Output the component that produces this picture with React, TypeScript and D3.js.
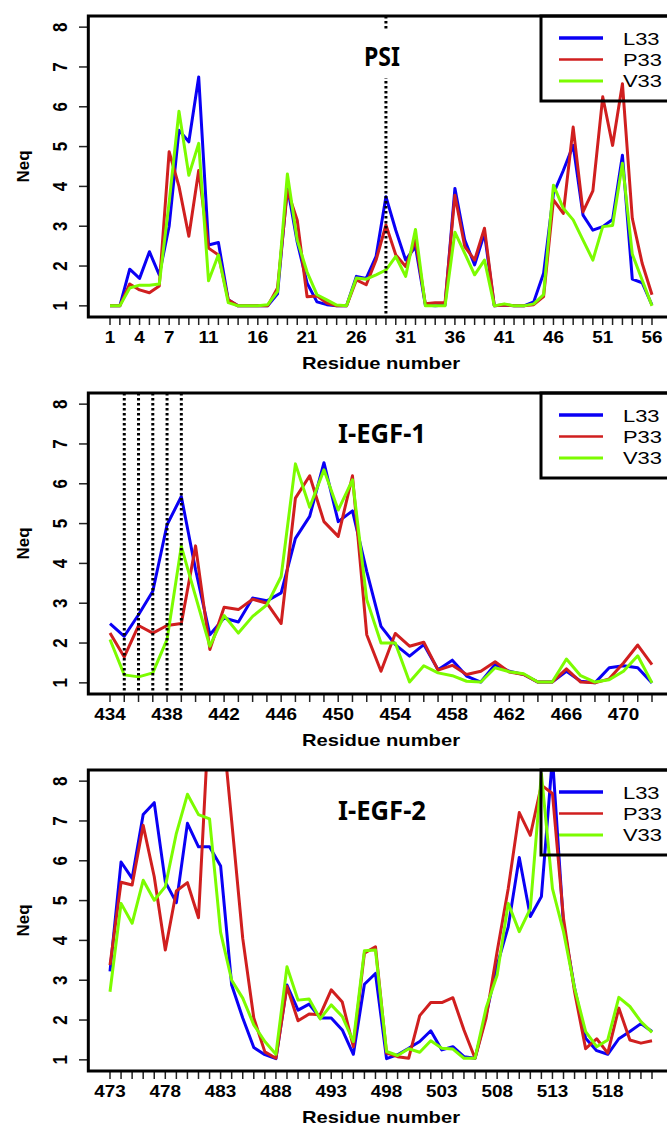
import React from "react";
import * as d3 from "d3";

const W = 667;
const H = 1127;

const seriesNames = ["L33", "P33", "V33"];
const seriesColors = ["#0a00f5", "#d01f1f", "#7cfc00"];
const legendWidths = [3.5, 2.5, 3];

// PSI domain, residues 1-56
const psiStart = 1;
const psiL33 = [1.0, 1.0, 1.92, 1.69, 2.36, 1.78, 3.0, 5.41, 5.12, 6.75, 2.53, 2.59, 1.15, 1.0, 1.0, 1.0, 1.0, 1.3, 4.0, 2.6, 1.57, 1.1, 1.03, 1.0, 1.0, 1.74, 1.69, 2.24, 3.74, 2.9, 2.15, 2.49, 1.02, 1.0, 1.02, 3.95, 2.65, 2.03, 2.82, 1.0, 1.02, 1.0, 1.0, 1.1, 1.82, 3.82, 4.4, 5.03, 3.28, 2.9, 2.99, 3.17, 4.78, 1.67, 1.58, 1.02];
const psiP33 = [1.0, 1.0, 1.55, 1.4, 1.33, 1.5, 4.87, 4.0, 2.75, 4.4, 2.45, 2.28, 1.15, 1.0, 1.0, 1.0, 1.0, 1.45, 3.9, 3.15, 1.23, 1.25, 1.07, 1.0, 1.0, 1.65, 1.53, 2.15, 3.03, 2.28, 1.99, 2.65, 1.05, 1.08, 1.08, 3.78, 2.49, 2.15, 2.95, 1.0, 1.02, 1.0, 1.0, 1.03, 1.23, 3.66, 3.32, 5.49, 3.36, 3.89, 6.25, 5.03, 6.58, 3.2, 2.07, 1.28];
const psiV33 = [1.0, 1.0, 1.45, 1.52, 1.52, 1.55, 3.6, 5.89, 4.28, 5.08, 1.63, 2.28, 1.08, 1.0, 1.0, 1.0, 1.03, 1.36, 4.31, 2.65, 1.85, 1.28, 1.15, 1.02, 1.0, 1.7, 1.67, 1.78, 1.9, 2.24, 1.74, 2.92, 1.0, 1.0, 1.0, 2.85, 2.32, 1.78, 2.15, 1.0, 1.05, 1.0, 1.0, 1.05, 1.28, 4.03, 3.45, 3.16, 2.65, 2.15, 2.99, 3.02, 4.58, 2.3, 1.65, 1.0];
const psiTicks = [1, 4, 7, 11, 16, 21, 26, 31, 36, 41, 46, 51, 56];
const psiMarks = [29];

// I-EGF-1, residues 434-472
const egf1Start = 434;
const egf1L33 = [2.49, 2.17, 2.71, 3.3, 4.97, 5.68, 3.84, 2.21, 2.63, 2.53, 3.13, 3.06, 3.26, 4.63, 5.18, 6.53, 5.05, 5.32, 3.8, 2.42, 1.96, 1.67, 1.96, 1.33, 1.57, 1.17, 1.02, 1.46, 1.29, 1.21, 1.02, 1.02, 1.29, 1.04, 1.0, 1.38, 1.43, 1.38, 1.0];
const egf1P33 = [2.25, 1.65, 2.44, 2.25, 2.44, 2.49, 4.44, 1.84, 2.9, 2.84, 3.1, 3.0, 2.49, 5.64, 6.2, 5.05, 4.68, 6.2, 2.21, 1.29, 2.24, 1.92, 2.02, 1.32, 1.44, 1.21, 1.29, 1.53, 1.27, 1.21, 1.02, 1.02, 1.35, 1.02, 1.0, 1.1, 1.5, 1.95, 1.46];
const egf1V33 = [2.09, 1.2, 1.15, 1.25, 2.09, 4.43, 3.17, 1.92, 2.69, 2.25, 2.67, 2.96, 3.67, 6.5, 5.41, 6.35, 5.34, 6.1, 3.09, 2.0, 2.0, 1.02, 1.43, 1.25, 1.18, 1.04, 1.02, 1.38, 1.28, 1.23, 1.02, 1.02, 1.6, 1.18, 1.02, 1.08, 1.29, 1.68, 1.0];
const egf1Ticks = [434, 438, 442, 446, 450, 454, 458, 462, 466, 470];
const egf1Marks = [435, 436, 437, 438, 439];

// I-EGF-2, residues 473-522
const egf2Start = 473;
const egf2L33 = [3.22, 5.97, 5.56, 7.16, 7.46, 5.47, 4.95, 6.94, 6.35, 6.35, 5.87, 2.88, 2.05, 1.31, 1.13, 1.03, 2.88, 2.25, 2.4, 2.05, 2.05, 1.75, 1.14, 2.9, 3.17, 1.03, 1.13, 1.29, 1.46, 1.73, 1.25, 1.33, 1.08, 1.04, 2.13, 3.38, 4.34, 6.08, 4.6, 5.1, 8.6, 4.39, 2.8, 1.54, 1.23, 1.14, 1.53, 1.71, 1.91, 1.71];
const egf2P33 = [3.38, 5.46, 5.39, 6.89, 5.6, 3.76, 5.24, 5.45, 4.57, 9.9, 9.9, 7.0, 4.05, 2.05, 1.2, 1.04, 2.84, 1.98, 2.15, 2.13, 2.76, 2.45, 1.33, 3.68, 3.84, 1.17, 1.08, 1.04, 2.11, 2.44, 2.44, 2.56, 1.75, 1.04, 2.05, 3.72, 5.3, 7.21, 6.64, 7.9, 7.69, 4.55, 2.71, 1.28, 1.53, 1.17, 2.3, 1.5, 1.42, 1.48];
const egf2V33 = [2.71, 4.93, 4.43, 5.51, 5.01, 5.35, 6.69, 7.67, 7.16, 7.05, 4.2, 3.0, 2.55, 1.88, 1.46, 1.14, 3.34, 2.5, 2.53, 2.03, 2.38, 2.09, 1.46, 3.74, 3.76, 1.21, 1.11, 1.28, 1.19, 1.48, 1.29, 1.27, 1.04, 1.04, 2.3, 3.13, 4.93, 4.22, 4.8, 8.19, 5.3, 4.22, 2.8, 1.71, 1.33, 1.5, 2.57, 2.34, 1.96, 1.69];
const egf2Ticks = [473, 478, 483, 488, 493, 498, 503, 508, 513, 518];

const yTicks = [1, 2, 3, 4, 5, 6, 7, 8];

const axisFont = "'Liberation Sans', Arial, sans-serif";
const titleFont = "'Noto Sans', 'Liberation Sans', sans-serif";

interface PanelProps {
  id: string;
  top: number;
  start: number;
  series: number[][];
  ticks: number[];
  title: string;
  titleWidth: number;
  marks: number[];
}

const Panel = ({ id, top, start, series, ticks, title, titleWidth, marks }: PanelProps) => {
  const n = series[0].length;
  const end = start + n - 1;
  const bottom = top + 301;
  const x = d3.scaleLinear().domain([start, end]).range([110, 652]);
  const y = d3.scaleLinear().domain([0.72, 8.28]).range([bottom, top]);
  const left = x(start - (end - start) * 0.04);
  const residues = d3.range(start, end + 1);
  const line = d3
    .line<number>()
    .x((_, i) => x(start + i))
    .y((v) => y(v));

  return (
    <g>
      <clipPath id={id}>
        <rect x={left} y={top} width={W - left + 20} height={bottom - top} />
      </clipPath>

      {/* y axis */}
      {yTicks.map((t) => (
        <g key={"y" + t}>
          <line x1={79} x2={left} y1={y(t)} y2={y(t)} stroke="#222" strokeWidth={1.5} />
          <text
            transform={`translate(67,${y(t)}) scale(1.15,1) rotate(-90)`}
            textAnchor="middle"
            fontFamily={axisFont}
            fontWeight="bold"
            fontSize={17}
          >
            {t}
          </text>
        </g>
      ))}
      <text
        transform={`translate(29,${(top + bottom) / 2}) rotate(-90)`}
        textAnchor="middle"
        fontFamily={axisFont}
        fontWeight="bold"
        fontSize={17}
      >
        Neq
      </text>

      {/* x axis */}
      {residues.map((r) => (
        <line key={"x" + r} x1={x(r)} x2={x(r)} y1={bottom} y2={bottom + 8} stroke="#222" strokeWidth={1.5} />
      ))}
      {ticks.map((t) => (
        <text
          key={"xl" + t}
          transform={`translate(${x(t)},${bottom + 26}) scale(1.18,1)`}
          textAnchor="middle"
          fontFamily={axisFont}
          fontWeight="bold"
          fontSize={16}
        >
          {t}
        </text>
      ))}
      <text
        x={381}
        y={bottom + 52}
        textAnchor="middle"
        fontFamily={axisFont}
        fontWeight="bold"
        fontSize={17}
        textLength={158}
        lengthAdjust="spacingAndGlyphs"
      >
        Residue number
      </text>

      {/* data */}
      <g clipPath={`url(#${id})`}>
        {series.map((s, i) => (
          <path key={seriesNames[i]} d={line(s) || ""} fill="none" stroke={seriesColors[i]} strokeWidth={3} strokeLinejoin="round" />
        ))}
      </g>

      {marks.map((m) => (
        <line key={"m" + m} x1={x(m)} x2={x(m)} y1={top} y2={bottom} stroke="#000" strokeWidth={3} strokeDasharray="2.5 2.5" />
      ))}

      {/* title */}
      <rect x={382 - titleWidth / 2 - 4} y={top + 14} width={titleWidth + 8} height={48} fill="#fff" />
      <text
        x={382}
        y={top + 50}
        textAnchor="middle"
        fontFamily={titleFont}
        fontWeight="bold"
        fontSize={27}
        textLength={titleWidth}
        lengthAdjust="spacingAndGlyphs"
      >
        {title}
      </text>

      {/* plot frame */}
      <rect x={left} y={top} width={W - left + 20} height={bottom - top} fill="none" stroke="#000" strokeWidth={3} />

      {/* legend */}
      <rect x={541} y={top} width={200} height={85} fill="none" stroke="#000" strokeWidth={3} />
      {seriesNames.map((name, i) => (
        <g key={"lg" + name}>
          <line x1={559} x2={603} y1={top + 22 + i * 21.5} y2={top + 22 + i * 21.5} stroke={seriesColors[i]} strokeWidth={legendWidths[i]} />
          <text
            transform={`translate(623,${top + 29 + i * 21}) scale(1.37,1)`}
            fontFamily={axisFont}
            fontSize={16}
          >
            {name}
          </text>
        </g>
      ))}
    </g>
  );
};

const App = () => {
  return (
    <svg
      width={W}
      height={H}
      style={{ position: "absolute", left: 0, top: 0, background: "#fff", overflow: "hidden" }}
    >
      <Panel
        id="clip-psi"
        top={16}
        start={psiStart}
        series={[psiL33, psiP33, psiV33]}
        ticks={psiTicks}
        title="PSI"
        titleWidth={36}
        marks={psiMarks}
      />
      <Panel
        id="clip-egf1"
        top={393}
        start={egf1Start}
        series={[egf1L33, egf1P33, egf1V33]}
        ticks={egf1Ticks}
        title="I-EGF-1"
        titleWidth={88}
        marks={egf1Marks}
      />
      <Panel
        id="clip-egf2"
        top={770}
        start={egf2Start}
        series={[egf2L33, egf2P33, egf2V33]}
        ticks={egf2Ticks}
        title="I-EGF-2"
        titleWidth={88}
        marks={[]}
      />
    </svg>
  );
};

export default App;
